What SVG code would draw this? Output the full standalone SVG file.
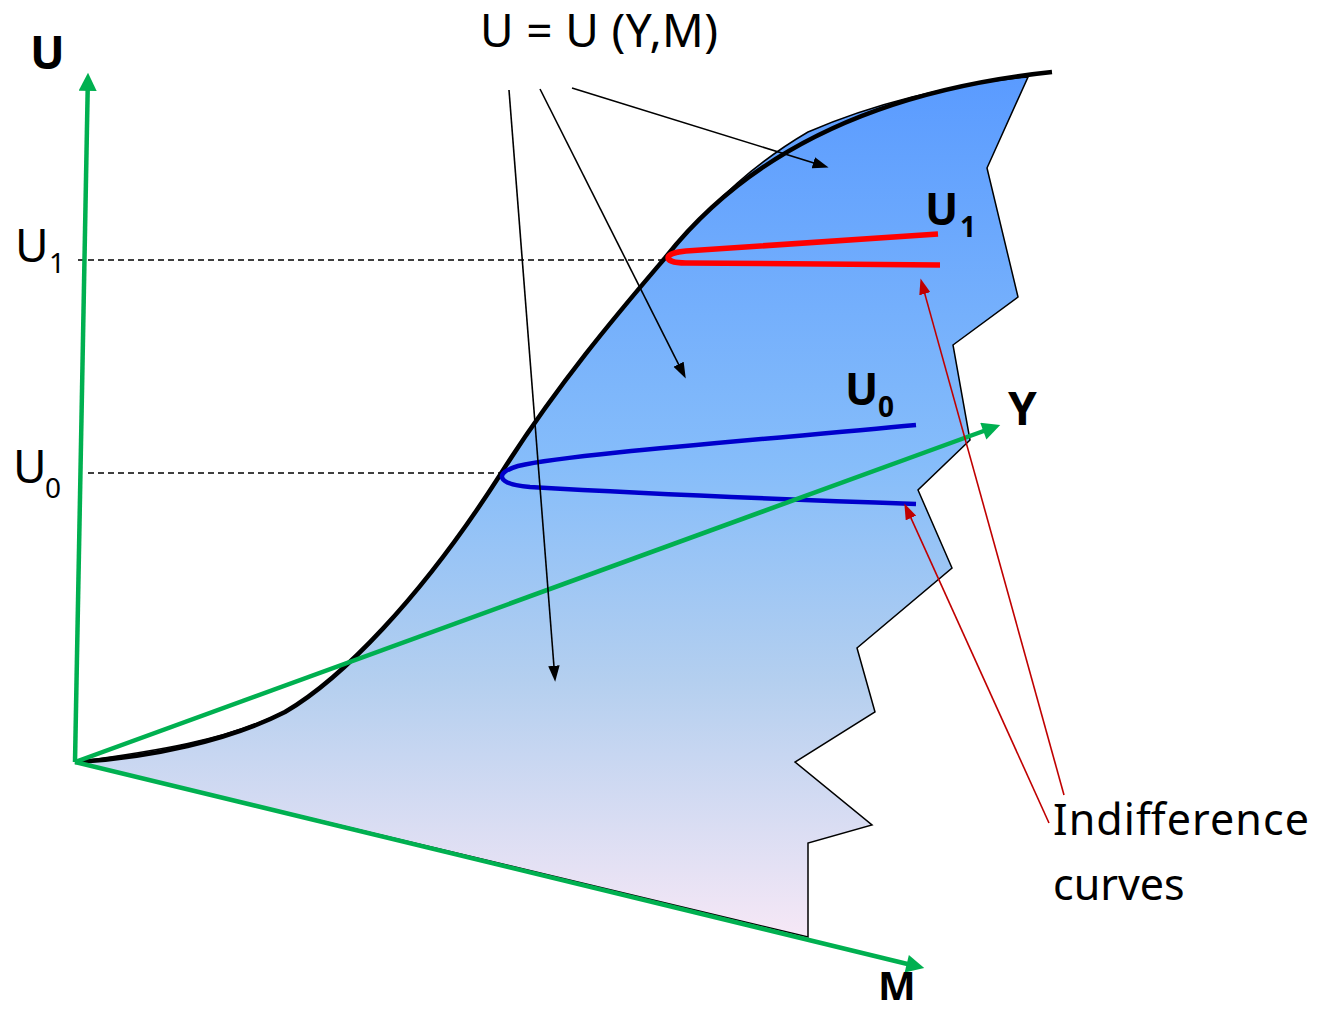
<svg xmlns="http://www.w3.org/2000/svg" width="1325" height="1011" viewBox="0 0 1325 1011">
<style>
.t{font-family:"Noto Sans","Open Sans","Liberation Sans",sans-serif;fill:#000}
.b{font-weight:bold}
.ax{stroke:#00b050;stroke-width:4.5;fill:none}
.ptr{stroke:#000;stroke-width:1.6;fill:none}
.rptr{stroke:#c00000;stroke-width:1.6;fill:none}
.dash{stroke:#000;stroke-width:1.3;stroke-dasharray:6 4;fill:none}
</style>
<defs>
<linearGradient id="g" gradientUnits="userSpaceOnUse" x1="0" y1="77" x2="0" y2="940">
<stop offset="0" stop-color="#5a9bff"/>
<stop offset="0.45" stop-color="#86bdfa"/>
<stop offset="0.7" stop-color="#b4cfef"/>
<stop offset="1" stop-color="#f7e8f6"/>
</linearGradient>
<marker id="ga" viewBox="0 0 10 10" refX="1" refY="5" markerWidth="19" markerHeight="18" markerUnits="userSpaceOnUse" orient="auto"><path d="M0,0 L10,5 L0,10 z" fill="#00b050"/></marker>
<marker id="ka" viewBox="0 0 14 10" refX="2" refY="5" markerWidth="16" markerHeight="12" markerUnits="userSpaceOnUse" orient="auto"><path d="M0,0 L14,5 L0,10 z" fill="#000"/></marker>
<marker id="ra" viewBox="0 0 14 10" refX="2" refY="5" markerWidth="16" markerHeight="12" markerUnits="userSpaceOnUse" orient="auto"><path d="M0,0 L14,5 L0,10 z" fill="#c00000"/></marker>
</defs>

<g id="surface">
<path d="M75,762 C150,752 230,740 287,710 C340,680 420,600 500,475 C560,380 625,305 665,258 C715,198 760,160 808,132 C870,105 950,84 1028,77 L987,168 L1018,297 L953,345 L970,440 L918,490 L952,568 L857,648 L875,712 L795,762 L872,825 L808,843 L808,937 Z" fill="url(#g)" stroke="#000" stroke-width="1.5"/>
</g>

<g id="utility-curve">
<path d="M75,762 C150,758 230,740 285,712 C340,680 420,600 500,475 C560,380 625,305 665,258 C750,150 880,90 1052,72" fill="none" stroke="#000" stroke-width="4.5"/>
</g>

<g id="guides">
<line class="dash" x1="78" y1="260" x2="665" y2="260"/>
<line class="dash" x1="88" y1="473" x2="500" y2="473"/>
</g>

<g id="indifference-U1">
<path d="M938,234 L686,251 C662,253 662,263 686,263 L940,265" fill="none" stroke="#ff0000" stroke-width="5.5"/>
</g>
<g id="indifference-U0">
<path d="M916,425 C760,440 570,454 518,466 C494,473 496,484 530,487 C650,494 800,500 916,504" fill="none" stroke="#0000cc" stroke-width="4.5"/>
</g>

<g id="axes">
<line class="ax" x1="75" y1="762" x2="87.7" y2="89" marker-end="url(#ga)"/>
<line class="ax" x1="75" y1="762" x2="985" y2="430.5" marker-end="url(#ga)"/>
<line class="ax" x1="75" y1="762" x2="908.5" y2="964.2" marker-end="url(#ga)"/>
</g>

<g id="connectors">
<line class="ptr" x1="509" y1="90" x2="554.1" y2="668" marker-end="url(#ka)"/>
<line class="ptr" x1="540" y1="89" x2="679.6" y2="366.3" marker-end="url(#ka)"/>
<line class="ptr" x1="572" y1="88" x2="815.5" y2="163.5" marker-end="url(#ka)"/>
<line class="rptr" x1="1064" y1="795" x2="924.2" y2="291.6" marker-end="url(#ra)"/>
<line class="rptr" x1="1049" y1="823" x2="910" y2="515.9" marker-end="url(#ra)"/>
</g>

<g id="labels">
<text class="t b" x="30" y="69" font-size="46">U</text>
<text class="t b" x="878" y="1000" font-size="40">M</text>
<text class="t b" x="1008" y="425" font-size="46">Y</text>
<text class="t b" x="925" y="225" font-size="44">U</text>
<text class="t b" x="960" y="237" font-size="28">1</text>
<text class="t b" x="845" y="405" font-size="44">U</text>
<text class="t b" x="878" y="417" font-size="28">0</text>
<text class="t" x="15" y="262" font-size="46">U</text>
<text class="t" x="49" y="273" font-size="28">1</text>
<text class="t" x="13" y="483" font-size="46">U</text>
<text class="t" x="45" y="498" font-size="28">0</text>
<text class="t" x="480" y="47" font-size="46" textLength="238">U = U (Y,M)</text>
<text class="t" x="1053" y="835" font-size="43" textLength="256">Indifference</text>
<text class="t" x="1053" y="900" font-size="43">curves</text>
</g>
</svg>
